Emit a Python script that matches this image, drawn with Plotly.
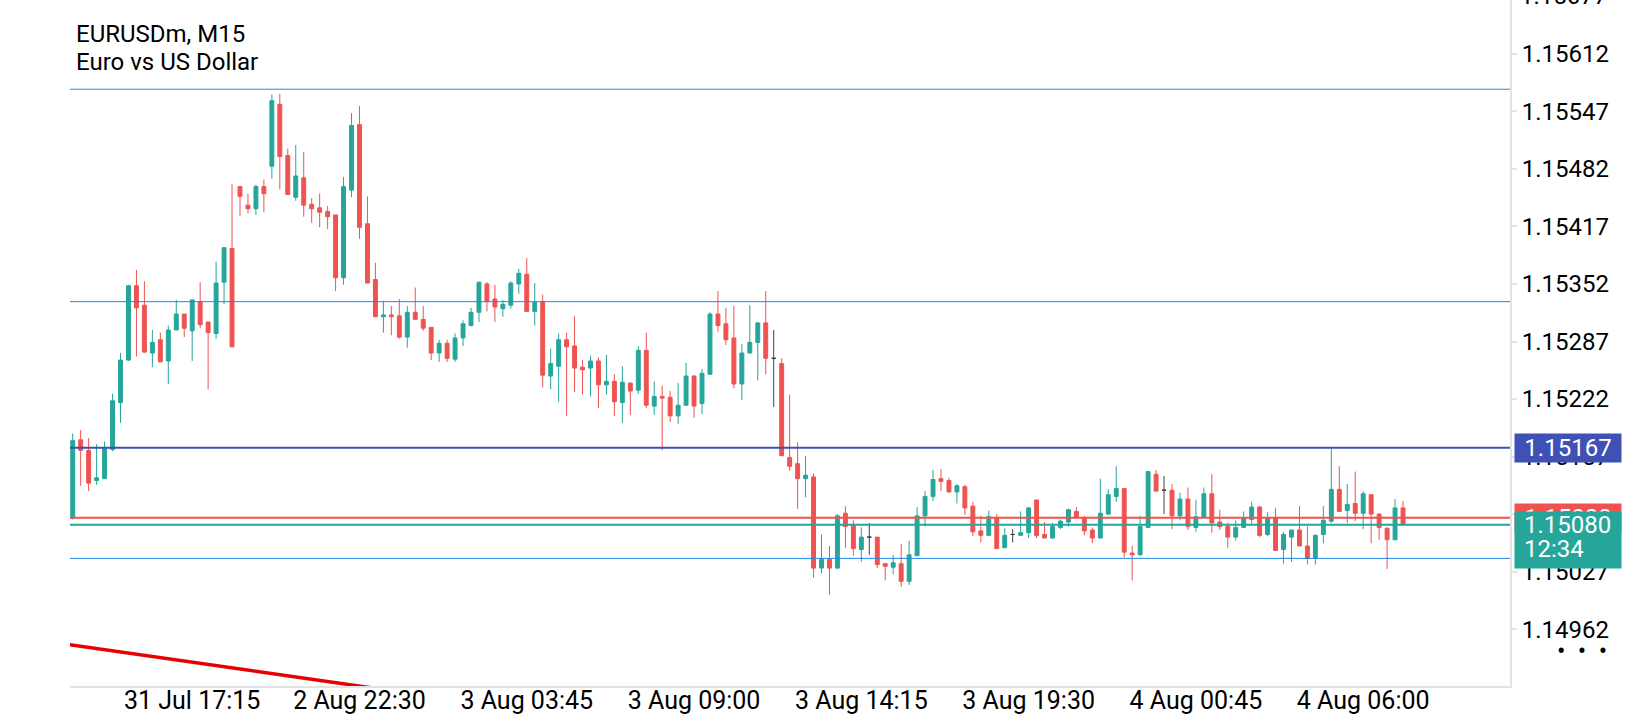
import pandas as pd
import plotly.graph_objects as go

# EURUSDm, M15 - bars from 31 Jul 13:30 to 4 Aug 07:15 (weekend gap skipped)
opens = [1.15087, 1.15176, 1.15164, 1.15130, 1.15132, 1.15165, 1.15218, 1.15266, 1.15350, 1.15328,
         1.15274, 1.15289, 1.15265, 1.15300, 1.15318, 1.15299, 1.15332, 1.15309, 1.15296, 1.15354,
         1.15392, 1.15462, 1.15441, 1.15437, 1.15462, 1.15485, 1.15555, 1.15497, 1.15450, 1.15472,
         1.15442, 1.15438, 1.15434, 1.15430, 1.15359, 1.15458, 1.15532, 1.15420, 1.15357, 1.15315,
         1.15317, 1.15316, 1.15292, 1.15320, 1.15312, 1.15303, 1.15274, 1.15285, 1.15267, 1.15291,
         1.15305, 1.15320, 1.15352, 1.15335, 1.15324, 1.15328, 1.15352, 1.15363, 1.15321, 1.15332,
         1.15248, 1.15259, 1.15289, 1.15282, 1.15258, 1.15257, 1.15265, 1.15238, 1.15242, 1.15218,
         1.15240, 1.15232, 1.15277, 1.15214, 1.15225, 1.15224, 1.15203, 1.15215, 1.15248, 1.15217,
         1.15250, 1.15318, 1.15307, 1.15291, 1.15239, 1.15274, 1.15286, 1.15308, 1.15268, 1.15262,
         1.15156, 1.15149, 1.15132, 1.15134, 1.15031, 1.15041, 1.15031, 1.15093, 1.15079, 1.15052,
         1.15066, 1.15066, 1.15036, 1.15032, 1.15036, 1.15016, 1.15045, 1.15090, 1.15112, 1.15132,
         1.15130, 1.15117, 1.15123, 1.15101, 1.15073, 1.15068, 1.15087, 1.15054, 1.15069, 1.15068,
         1.15071, 1.15108, 1.15069, 1.15065, 1.15077, 1.15083, 1.15095, 1.15088, 1.15074, 1.15065,
         1.15092, 1.15112, 1.15121, 1.15048, 1.15046, 1.15077, 1.15137, 1.15119, 1.15119, 1.15090,
         1.15109, 1.15077, 1.15088, 1.15115, 1.15083, 1.15078, 1.15066, 1.15077, 1.15086, 1.15100,
         1.15069, 1.15088, 1.15052, 1.15066, 1.15074, 1.15056, 1.15042, 1.15069, 1.15084, 1.15120,
         1.15096, 1.15104, 1.15093, 1.15114, 1.15092, 1.15076, 1.15063, 1.15099]
highs = [1.15183, 1.15187, 1.15178, 1.15171, 1.15174, 1.15228, 1.15274, 1.15351, 1.15368, 1.15355,
         1.15300, 1.15297, 1.15305, 1.15334, 1.15318, 1.15334, 1.15354, 1.15309, 1.15377, 1.15393,
         1.15465, 1.15462, 1.15454, 1.15464, 1.15470, 1.15566, 1.15567, 1.15505, 1.15509, 1.15501,
         1.15449, 1.15454, 1.15440, 1.15430, 1.15473, 1.15545, 1.15553, 1.15451, 1.15376, 1.15333,
         1.15327, 1.15335, 1.15327, 1.15348, 1.15327, 1.15303, 1.15289, 1.15289, 1.15296, 1.15311,
         1.15325, 1.15354, 1.15354, 1.15351, 1.15334, 1.15355, 1.15369, 1.15381, 1.15353, 1.15340,
         1.15279, 1.15296, 1.15297, 1.15316, 1.15266, 1.15271, 1.15269, 1.15272, 1.15250, 1.15259,
         1.15241, 1.15282, 1.15297, 1.15242, 1.15237, 1.15231, 1.15240, 1.15263, 1.15249, 1.15256,
         1.15320, 1.15344, 1.15325, 1.15327, 1.15284, 1.15328, 1.15309, 1.15344, 1.15300, 1.15268,
         1.15227, 1.15173, 1.15158, 1.15138, 1.15069, 1.15056, 1.15092, 1.15101, 1.15085, 1.15077,
         1.15082, 1.15066, 1.15037, 1.15046, 1.15058, 1.15062, 1.15100, 1.15118, 1.15142, 1.15143,
         1.15133, 1.15126, 1.15125, 1.15106, 1.15090, 1.15096, 1.15092, 1.15076, 1.15075, 1.15095,
         1.15100, 1.15108, 1.15083, 1.15082, 1.15086, 1.15098, 1.15100, 1.15090, 1.15077, 1.15132,
         1.15120, 1.15146, 1.15121, 1.15056, 1.15090, 1.15141, 1.15142, 1.15135, 1.15126, 1.15116,
         1.15122, 1.15108, 1.15122, 1.15137, 1.15097, 1.15082, 1.15085, 1.15095, 1.15106, 1.15101,
         1.15094, 1.15099, 1.15072, 1.15074, 1.15101, 1.15078, 1.15069, 1.15101, 1.15166, 1.15146,
         1.15126, 1.15140, 1.15118, 1.15114, 1.15093, 1.15077, 1.15109, 1.15107]
lows = [1.15086, 1.15124, 1.15118, 1.15125, 1.15132, 1.15163, 1.15195, 1.15265, 1.15270, 1.15274,
        1.15258, 1.15264, 1.15239, 1.15300, 1.15292, 1.15265, 1.15302, 1.15233, 1.15290, 1.15329,
        1.15281, 1.15429, 1.15432, 1.15430, 1.15433, 1.15471, 1.15459, 1.15453, 1.15446, 1.15428,
        1.15421, 1.15416, 1.15414, 1.15344, 1.15351, 1.15450, 1.15403, 1.15353, 1.15315, 1.15297,
        1.15294, 1.15290, 1.15280, 1.15312, 1.15299, 1.15266, 1.15264, 1.15264, 1.15264, 1.15282,
        1.15304, 1.15309, 1.15321, 1.15309, 1.15315, 1.15324, 1.15341, 1.15321, 1.15305, 1.15235,
        1.15233, 1.15219, 1.15203, 1.15230, 1.15227, 1.15225, 1.15212, 1.15227, 1.15203, 1.15195,
        1.15204, 1.15228, 1.15212, 1.15204, 1.15164, 1.15196, 1.15194, 1.15215, 1.15201, 1.15205,
        1.15250, 1.15298, 1.15283, 1.15234, 1.15221, 1.15274, 1.15243, 1.15250, 1.15213, 1.15158,
        1.15141, 1.15098, 1.15111, 1.15020, 1.15025, 1.15001, 1.15030, 1.15054, 1.15045, 1.15038,
        1.15046, 1.15031, 1.15017, 1.15024, 1.15010, 1.15012, 1.15045, 1.15078, 1.15107, 1.15118,
        1.15117, 1.15104, 1.15091, 1.15067, 1.15060, 1.15068, 1.15053, 1.15054, 1.15060, 1.15068,
        1.15065, 1.15065, 1.15065, 1.15064, 1.15075, 1.15078, 1.15088, 1.15068, 1.15059, 1.15065,
        1.15091, 1.15106, 1.15043, 1.15017, 1.15045, 1.15077, 1.15118, 1.15092, 1.15075, 1.15085,
        1.15074, 1.15072, 1.15088, 1.15071, 1.15074, 1.15054, 1.15062, 1.15077, 1.15081, 1.15066,
        1.15067, 1.15051, 1.15036, 1.15038, 1.15056, 1.15035, 1.15035, 1.15059, 1.15082, 1.15095,
        1.15082, 1.15084, 1.15075, 1.15059, 1.15063, 1.15030, 1.15063, 1.15080]
closes = [1.15175, 1.15164, 1.15127, 1.15133, 1.15166, 1.15220, 1.15266, 1.15350, 1.15325, 1.15275,
          1.15286, 1.15264, 1.15300, 1.15318, 1.15302, 1.15334, 1.15306, 1.15297, 1.15353, 1.15393,
          1.15281, 1.15451, 1.15437, 1.15462, 1.15454, 1.15559, 1.15496, 1.15453, 1.15474, 1.15441,
          1.15437, 1.15433, 1.15428, 1.15359, 1.15462, 1.15531, 1.15416, 1.15353, 1.15315, 1.15317,
          1.15315, 1.15292, 1.15320, 1.15312, 1.15302, 1.15274, 1.15285, 1.15268, 1.15291, 1.15307,
          1.15320, 1.15354, 1.15332, 1.15326, 1.15329, 1.15353, 1.15364, 1.15321, 1.15331, 1.15249,
          1.15262, 1.15289, 1.15281, 1.15257, 1.15255, 1.15265, 1.15238, 1.15242, 1.15219, 1.15241,
          1.15231, 1.15277, 1.15215, 1.15225, 1.15223, 1.15203, 1.15215, 1.15248, 1.15214, 1.15251,
          1.15318, 1.15305, 1.15289, 1.15239, 1.15274, 1.15286, 1.15308, 1.15268, 1.15268, 1.15158,
          1.15146, 1.15132, 1.15136, 1.15031, 1.15041, 1.15031, 1.15090, 1.15078, 1.15053, 1.15066,
          1.15066, 1.15035, 1.15033, 1.15037, 1.15016, 1.15046, 1.15090, 1.15112, 1.15131, 1.15129,
          1.15117, 1.15124, 1.15099, 1.15072, 1.15068, 1.15089, 1.15053, 1.15068, 1.15069, 1.15071,
          1.15099, 1.15068, 1.15065, 1.15078, 1.15084, 1.15097, 1.15088, 1.15073, 1.15065, 1.15093,
          1.15114, 1.15121, 1.15049, 1.15046, 1.15078, 1.15140, 1.15118, 1.15119, 1.15090, 1.15109,
          1.15078, 1.15089, 1.15115, 1.15082, 1.15078, 1.15066, 1.15077, 1.15087, 1.15100, 1.15068,
          1.15088, 1.15051, 1.15069, 1.15074, 1.15056, 1.15042, 1.15068, 1.15085, 1.15120, 1.15095,
          1.15103, 1.15093, 1.15115, 1.15092, 1.15077, 1.15063, 1.15099, 1.15080]

friday = pd.date_range("2020-07-31 13:30", "2020-07-31 20:45", freq="15min")
week = pd.date_range("2020-08-02 21:00", "2020-08-04 07:15", freq="15min")
bar_times = [f"{t.day} {t:%b %H:%M}" for t in friday.append(week)]

time_labels = ["31 Jul 17:15", "2 Aug 22:30", "3 Aug 03:45", "3 Aug 09:00",
               "3 Aug 14:15", "3 Aug 19:30", "4 Aug 00:45", "4 Aug 06:00"]
price_ticks = [1.14962, 1.15027, 1.15092, 1.15157, 1.15222, 1.15287,
               1.15352, 1.15417, 1.15482, 1.15547, 1.15612]
top_tick = "1.15677"

blue_levels = [1.15572, 1.15332, 1.15042]
alert_level = 1.15167
bid = 1.15080
ask = 1.15088
countdown = "12:34"
trend_start = ("31 Jul 13:30", 1.14944)
trend_end = ("2 Aug 22:15", 1.14899)

teal = "#26a69a"
red = "#ef5350"
indigo = "#3f51b5"
axis_grey = "#e3e3e3"
font = "Roboto"

bars = list(range(len(bar_times)))
regular = [i for i in bars if opens[i] != closes[i]]
dojis = [i for i in bars if opens[i] == closes[i]]


def pick(values, idx):
    return [values[i] for i in idx]


fig = go.Figure()
fig.add_trace(go.Candlestick(
    x=regular, open=pick(opens, regular), high=pick(highs, regular),
    low=pick(lows, regular), close=pick(closes, regular),
    text=pick(bar_times, regular),
    increasing=dict(line=dict(color=teal, width=1), fillcolor=teal),
    decreasing=dict(line=dict(color=red, width=1), fillcolor=red),
    whiskerwidth=0, showlegend=False))
fig.add_trace(go.Candlestick(
    x=dojis, open=pick(opens, dojis), high=pick(highs, dojis),
    low=pick(lows, dojis), close=pick(closes, dojis),
    text=pick(bar_times, dojis),
    increasing=dict(line=dict(color="#424242", width=1), fillcolor="#424242"),
    decreasing=dict(line=dict(color="#424242", width=1), fillcolor="#424242"),
    whiskerwidth=0, showlegend=False))

# trend line (a ray through two anchors, clipped by the plot area)
i0, i1 = bar_times.index(trend_start[0]), bar_times.index(trend_end[0])
slope = (trend_end[1] - trend_start[1]) / (i1 - i0)
ray_x = [i0 - 3, i1 + 10]
ray_y = [trend_start[1] + slope * (x - i0) for x in ray_x]
fig.add_trace(go.Scatter(x=ray_x, y=ray_y, mode="lines",
                         line=dict(color="#e60000", width=3.5),
                         hoverinfo="skip", showlegend=False))

shapes = []
for lvl in blue_levels:
    shapes.append(dict(type="line", xref="paper", x0=0, x1=1, yref="y", y0=lvl, y1=lvl,
                       line=dict(color="#1e88e5", width=1), layer="above"))
shapes.append(dict(type="line", xref="paper", x0=0, x1=1, yref="y", y0=alert_level, y1=alert_level,
                   line=dict(color=indigo, width=2), layer="above"))
shapes.append(dict(type="line", xref="paper", x0=0, x1=1, yref="y", y0=ask, y1=ask,
                   line=dict(color=red, width=2), layer="above"))
shapes.append(dict(type="line", xref="paper", x0=0, x1=1, yref="y", y0=bid, y1=bid,
                   line=dict(color=teal, width=2), layer="above"))

white = dict(family=font, size=24, color="white")
black = dict(family=font, size=24, color="black")
annotations = [
    dict(text="EURUSDm, M15", xref="paper", x=0, xanchor="left", xshift=4,
         yref="paper", y=1, yanchor="middle", yshift=-34, showarrow=False, font=black),
    dict(text="Euro vs US Dollar", xref="paper", x=0, xanchor="left", xshift=4,
         yref="paper", y=1, yanchor="middle", yshift=-62, showarrow=False, font=black),
    dict(text=top_tick, xref="paper", x=1, xanchor="left", xshift=8,
         yref="paper", y=1, yanchor="middle", yshift=4, showarrow=False, font=black),
    dict(text=f"{alert_level:.5f}", xref="paper", x=1, xanchor="left", xshift=4,
         yref="y", y=alert_level, yanchor="middle", showarrow=False,
         bgcolor=indigo, width=104, height=26, borderpad=1, align="center", font=white),
    dict(text=f"{ask:.5f}", xref="paper", x=1, xanchor="left", xshift=4,
         yref="y", y=ask, yanchor="middle", showarrow=False,
         bgcolor=red, width=104, height=26, borderpad=1, align="center", font=white),
    dict(text="\u00a0", xref="paper", x=1, xanchor="left", xshift=4,
         yref="y", y=bid, yanchor="top", yshift=14, showarrow=False,
         bgcolor=teal, width=104, height=54, borderpad=1, font=white),
    dict(text=f"{bid:.5f}", xref="paper", x=1, xanchor="left", xshift=12,
         yref="y", y=bid, yanchor="middle", showarrow=False, font=white),
    dict(text=countdown, xref="paper", x=1, xanchor="left", xshift=12,
         yref="y", y=bid, yanchor="middle", yshift=-24, showarrow=False, font=white),
    dict(text="\u2022  \u2022  \u2022", xref="paper", x=1, xanchor="left", xshift=45,
         yref="paper", y=0, yanchor="middle", yshift=35, showarrow=False,
         font=dict(family=font, size=25, color="black")),
]

fig.update_layout(
    width=1640, height=720,
    margin=dict(l=70, r=130, t=0, b=34),
    paper_bgcolor="white", plot_bgcolor="white",
    font=dict(family=font, size=24, color="black"),
    showlegend=False,
    shapes=shapes,
    annotations=annotations,
)
fig.update_xaxes(range=[-0.34, 180.43], tickvals=[bar_times.index(t) for t in time_labels],
                 ticktext=time_labels, showgrid=False, zeroline=False,
                 showline=True, linecolor=axis_grey, linewidth=2,
                 ticklabelstandoff=-9,
                 rangeslider_visible=False, tickfont=dict(size=25, color="black"))
fig.update_yaxes(side="right", range=[1.148978, 1.156728], tickvals=price_ticks,
                 tickformat=".5f", showgrid=False, zeroline=False,
                 showline=True, linecolor=axis_grey, linewidth=2,
                 ticks="outside", ticklen=5, tickwidth=2, tickcolor=axis_grey,
                 tickfont=dict(size=24, color="black"))

# the page margin would shift the chart away from the window corner
fig.write_html("out.html", config={"displayModeBar": False},
               post_script="document.body.style.margin = '0';")
